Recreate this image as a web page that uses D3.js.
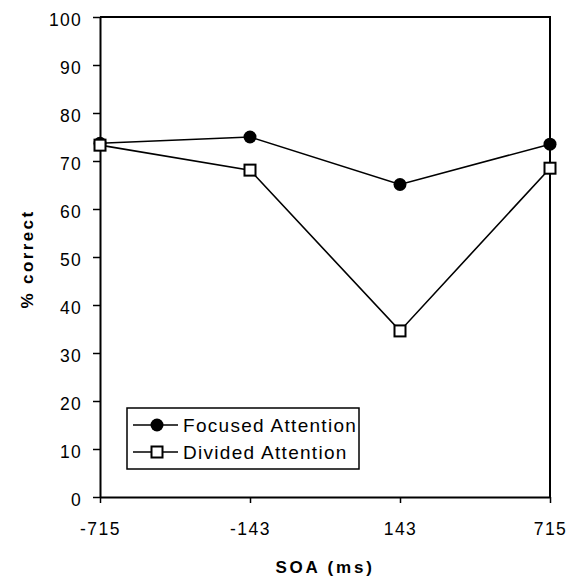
<!DOCTYPE html>
<html>
<head>
<meta charset="utf-8">
<script src="https://cdn.jsdelivr.net/npm/d3@7"></script>
<style>
  body { margin: 0; background: #fff; }
  svg { display: block; }
</style>
</head>
<body>
<div id="chart"></div>
<script>
const soa = ['-715', '-143', '143', '715'];
const focused = [73.7, 75, 65.1, 73.5];
const divided = [73.3, 68.1, 34.6, 68.5];
const yTicks = [0, 10, 20, 30, 40, 50, 60, 70, 80, 90, 100];
const seriesNames = ['Focused Attention', 'Divided Attention'];

const width = 567;
const height = 578;
const margin = { t: 17, r: 17, b: 81, l: 100 };

const svg = d3
  .select('#chart')
  .append('svg')
  .attr('width', width)
  .attr('height', height)
  .style('font-family', 'Liberation Sans, Arial, sans-serif');

const x = d3
  .scalePoint()
  .domain(soa)
  .range([margin.l, width - margin.r])
  .padding(0);

const y = d3
  .scaleLinear()
  .domain([0, 100])
  .range([height - margin.b, margin.t]);

// top and right frame lines
svg
  .append('path')
  .attr('d', `M${margin.l},${margin.t}H${width - margin.r}V${height - margin.b}`)
  .attr('fill', 'none')
  .attr('stroke', '#000')
  .attr('stroke-width', 2);

// y axis
const yAxis = svg
  .append('g')
  .attr('transform', `translate(${margin.l},0)`)
  .call(d3.axisLeft(y).tickValues(yTicks).tickSize(7).tickPadding(11).tickSizeOuter(0));
yAxis.select('.domain').attr('stroke-width', 2);
yAxis.selectAll('.tick line').attr('stroke-width', 1.5);
yAxis
  .selectAll('.tick text')
  .attr('font-size', 17.5)
  .attr('fill', '#000')
  .attr('dy', '0.48em')
  .style('letter-spacing', '1.3px');

// x axis
const xAxis = svg
  .append('g')
  .attr('transform', `translate(0,${height - margin.b})`)
  .call(d3.axisBottom(x).tickSize(6).tickPadding(20).tickSizeOuter(0));
xAxis.select('.domain').attr('stroke-width', 2);
xAxis.selectAll('.tick line').attr('stroke-width', 1.5);
xAxis
  .selectAll('.tick text')
  .attr('font-size', 17.5)
  .attr('fill', '#000')
  .style('letter-spacing', '1.5px');

// axis titles
svg
  .append('text')
  .attr('x', (margin.l + width - margin.r) / 2)
  .attr('y', 573)
  .attr('text-anchor', 'middle')
  .attr('font-size', 17)
  .attr('font-weight', 'bold')
  .style('letter-spacing', '2.8px')
  .text('SOA (ms)');

svg
  .append('text')
  .attr('transform', `translate(33,${(margin.t + height - margin.b) / 2 + 2}) rotate(-90)`)
  .attr('text-anchor', 'middle')
  .attr('font-size', 17)
  .attr('font-weight', 'bold')
  .style('letter-spacing', '2.4px')
  .text('% correct');

const line = d3
  .line()
  .x((d, i) => x(soa[i]))
  .y((d) => y(d));

// series lines
[focused, divided].forEach((vals) => {
  svg
    .append('path')
    .datum(vals)
    .attr('d', line)
    .attr('fill', 'none')
    .attr('stroke', '#000')
    .attr('stroke-width', 1.6);
});

// markers
svg
  .append('g')
  .selectAll('circle')
  .data(focused)
  .join('circle')
  .attr('cx', (d, i) => x(soa[i]))
  .attr('cy', (d) => y(d))
  .attr('r', 6.5)
  .attr('fill', '#000');

const sq = 11;
svg
  .append('g')
  .selectAll('rect')
  .data(divided)
  .join('rect')
  .attr('x', (d, i) => x(soa[i]) - sq / 2)
  .attr('y', (d) => y(d) - sq / 2)
  .attr('width', sq)
  .attr('height', sq)
  .attr('fill', '#fff')
  .attr('stroke', '#000')
  .attr('stroke-width', 2);

// legend
const legend = svg.append('g').attr('transform', 'translate(127,408)');
legend
  .append('rect')
  .attr('width', 232)
  .attr('height', 61)
  .attr('fill', '#fff')
  .attr('stroke', '#000')
  .attr('stroke-width', 1.5);

seriesNames.forEach((name, i) => {
  const row = legend.append('g').attr('transform', `translate(0,${17 + i * 27})`);
  row
    .append('line')
    .attr('x1', 6)
    .attr('x2', 51)
    .attr('stroke', '#000')
    .attr('stroke-width', 1.6);
  if (i === 0) {
    row.append('circle').attr('cx', 30).attr('r', 6.5).attr('fill', '#000');
  } else {
    row
      .append('rect')
      .attr('x', 30 - sq / 2)
      .attr('y', -sq / 2)
      .attr('width', sq)
      .attr('height', sq)
      .attr('fill', '#fff')
      .attr('stroke', '#000')
      .attr('stroke-width', 2);
  }
  row
    .append('text')
    .attr('x', 56)
    .attr('dy', '0.37em')
    .attr('font-size', 19)
    .style('letter-spacing', '1.3px')
    .text(name);
});
</script>
</body>
</html>
